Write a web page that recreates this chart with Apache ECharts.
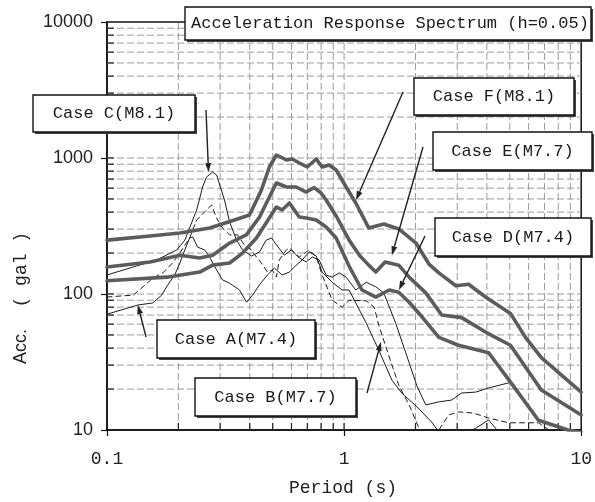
<!DOCTYPE html>
<html>
<head>
<meta charset="utf-8">
<script src="https://cdn.jsdelivr.net/npm/echarts@6/dist/echarts.min.js"></script>
<style>
  html, body { margin: 0; padding: 0; background: #fff; }
  #chart { width: 595px; height: 502px; }
</style>
</head>
<body>
<div id="chart"></div>
<script>
// ---- Acceleration response spectra, h = 0.05 (period in s, acceleration in gal) ----

// Case A (M7.4) - thin solid
const periodA = [0.1,0.135,0.156,0.17,0.18,0.193,0.203,0.213,0.223,0.23,0.241,0.258,0.271,0.29,0.307,0.329,0.362,0.388,0.411,0.44,0.475,0.508,0.548,0.588,0.628,0.666,0.713,0.763,0.808,0.891,0.981,1.05,1.24,1.40,1.59,1.75,2.03,2.34,2.51,3.04,3.59,4.07,4.48,4.94];
const accA    = [71,83,86,98,116,138,169,211,258,263,221,211,187,150,127,120,107,87,98,117,138,155,138,145,163,178,204,190,145,122,107,107,61,38.7,23.3,18.7,14.8,11.45,9.7,9,10.3,11.85,9.7,8.8];

// Case B (M7.7) - thin dashed
const periodB = [0.1,0.117,0.129,0.142,0.156,0.172,0.189,0.203,0.223,0.239,0.263,0.276,0.29,0.307,0.329,0.355,0.38,0.399,0.427,0.448,0.475,0.498,0.518,0.533,0.571,0.588,0.647,0.713,0.763,0.808,0.891,0.981,1.05,1.24,1.34,1.40,1.55,1.70,1.88,2.07,2.17,2.34,2.51,2.76,3.04,3.52,4.07,4.94,6.6,8.0];
const accB    = [95,97,98,113,131,143,169,200,258,350,415,451,362,306,272,272,229,218,187,169,145,150,133,178,211,218,187,211,187,138,90,80,90,89,80,59,34.4,21.4,15.3,10.3,9.2,8.6,10,12.9,13.6,13.3,12.25,11.3,11.3,9];

// Case C (M8.1) - thin solid
const periodC = [0.1,0.129,0.162,0.197,0.213,0.223,0.239,0.253,0.263,0.279,0.29,0.299,0.313,0.329,0.352,0.373,0.407,0.44,0.469,0.494,0.523,0.56,0.599,0.647,0.692,0.734,0.785,0.84,0.891,0.953,1.02,1.12,1.24,1.36,1.47,1.65,1.82,2.03,2.21,2.51,2.84,3.13,3.59,4.07,4.94];
const accC    = [138,158,178,211,249,306,415,612,725,789,750,633,491,338,249,211,190,204,249,258,225,193,211,184,172,187,178,138,133,143,133,107,122,113,102,61,37,21,15.3,16.1,16.6,18.7,19,20.4,22.2];

// Case D (M7.4) - thick
const periodD = [0.1,0.179,0.246,0.279,0.329,0.373,0.427,0.469,0.518,0.548,0.588,0.647,0.692,0.763,0.84,0.926,1.05,1.19,1.36,1.55,1.70,1.88,2.13,2.51,3.04,4.07,5.08,6.6,8.8,10];
const accD    = [125,133,145,163,169,200,258,333,436,415,467,368,362,350,311,258,160,107,95,107,103,87,68,48,42,37,22,11.8,10,9.6];

// Case E (M7.7) - thick
const periodE = [0.1,0.152,0.203,0.246,0.279,0.329,0.387,0.44,0.484,0.518,0.571,0.628,0.692,0.748,0.80,0.84,0.93,1.05,1.16,1.27,1.36,1.49,1.70,1.88,2.21,2.58,3.13,3.95,5.03,6.79,10];
const accE    = [158,172,193,184,193,237,272,368,517,655,612,612,562,605,553,491,370,249,193,163,145,172,163,133,102,70,67,52.5,42,19.7,12.9];

// Case F (M8.1) - thick
const periodF = [0.1,0.152,0.203,0.271,0.345,0.399,0.448,0.484,0.518,0.571,0.605,0.647,0.699,0.763,0.808,0.865,0.926,1.02,1.12,1.27,1.47,1.70,2.01,2.28,2.51,2.96,3.35,3.95,5.03,5.82,6.79,10];
const accF    = [249,267,281,306,350,381,582,859,1052,967,983,919,859,983,859,888,816,612,467,306,327,301,237,166,143,115,118,95,72,48,34,19];

// Grid / tick positions on the log axes
const periodGrid = [0.2,0.3,0.4,0.5,0.6,0.7,0.8,0.9,1,2,3,4,5,6,7,8,9];
const accGrid = [20,30,40,50,60,70,80,90,100,200,300,400,500,600,700,800,900,1000,2000,3000,4000,5000,6000,7000,8000,9000];

// Case labels and the point on each curve that their leader points at
const caseLabels = ['Case A(M7.4)','Case B(M7.7)','Case C(M8.1)','Case D(M7.4)','Case E(M7.7)','Case F(M8.1)'];
const leaderTips = [[0.135,83],[1.431,44.4],[0.268,789],[1.703,107],[1.591,193],[1.123,491]];

const X_MIN = 0.1, X_MAX = 10, Y_MIN = 10, Y_MAX = 10000;
const MONO = '"Liberation Mono", "DejaVu Sans Mono", monospace';
const SANS = '"Liberation Sans", Arial, sans-serif';

const zip = (xs, ys) => xs.map((x, i) => [x, ys[i]]);

const thick = { color: '#5c5c5c', width: 3.6 };
const thin = { color: '#1c1c1c', width: 1 };

function curve(name, xs, ys, style, dashed) {
  return {
    name, type: 'line', data: zip(xs, ys), showSymbol: false, symbol: 'none',
    clip: true, z: 3, silent: true,
    lineStyle: { color: style.color, width: style.width, type: dashed ? [5, 4] : 'solid', cap: 'round', join: 'round' }
  };
}

const chart = echarts.init(document.getElementById('chart'), null, { renderer: 'canvas' });

const gridSeriesV = {
  type: 'custom', coordinateSystem: 'cartesian2d', z: 1, silent: true, clip: false,
  data: periodGrid.map(v => [v, Y_MIN]),
  renderItem: (params, api) => {
    const v = api.value(0);
    const b = api.coord([v, Y_MIN]);
    const t = api.coord([v, Y_MAX]);
    return { type: 'group', children: [
      { type: 'line', shape: { x1: b[0], y1: b[1], x2: t[0], y2: t[1] },
        style: { stroke: '#9c9c9c', lineWidth: 1, lineDash: [7, 3] } },
      { type: 'line', shape: { x1: b[0], y1: b[1], x2: b[0], y2: b[1] - 7 },
        style: { stroke: '#222', lineWidth: 1.2 } }
    ]};
  }
};

const gridSeriesH = {
  type: 'custom', coordinateSystem: 'cartesian2d', z: 1, silent: true, clip: false,
  data: accGrid.map(v => [X_MIN, v]),
  renderItem: (params, api) => {
    const v = api.value(1);
    const l = api.coord([X_MIN, v]);
    const r = api.coord([X_MAX, v]);
    return { type: 'group', children: [
      { type: 'line', shape: { x1: l[0], y1: l[1], x2: r[0], y2: r[1] },
        style: { stroke: '#9c9c9c', lineWidth: 1, lineDash: [7, 3] } },
      { type: 'line', shape: { x1: l[0], y1: l[1], x2: l[0] + 7, y2: l[1] },
        style: { stroke: '#222', lineWidth: 1.2 } }
    ]};
  }
};

chart.setOption({
  animation: false,
  backgroundColor: '#fff',
  grid: { left: 107, right: 12, top: 22, bottom: 72, show: true, borderColor: '#111', borderWidth: 1.5, backgroundColor: '#fff' },
  xAxis: {
    type: 'log', logBase: 10, min: X_MIN, max: X_MAX,
    axisLine: { onZero: false, lineStyle: { color: '#111', width: 1.5 } },
    axisTick: { show: true, inside: false, length: 6, lineStyle: { color: '#111', width: 1.2 } },
    splitLine: { show: false },
    axisLabel: { color: '#222', fontFamily: MONO, fontSize: 18, margin: 20,
      formatter: v => (v < 1 ? v.toFixed(1) : String(Math.round(v))) }
  },
  yAxis: {
    type: 'log', logBase: 10, min: Y_MIN, max: Y_MAX,
    axisLine: { onZero: false, lineStyle: { color: '#111', width: 1.5 } },
    axisTick: { show: true, inside: false, length: 6, lineStyle: { color: '#111', width: 1.2 } },
    splitLine: { show: false },
    axisLabel: { color: '#222', fontFamily: SANS, fontSize: 18, margin: 14,
      formatter: v => String(Math.round(v)) }
  },
  series: [
    gridSeriesV, gridSeriesH,
    curve('Case A', periodA, accA, thin, false),
    curve('Case B', periodB, accB, thin, true),
    curve('Case C', periodC, accC, thin, false),
    curve('Case D', periodD, accD, thick, false),
    curve('Case E', periodE, accE, thick, false),
    curve('Case F', periodF, accF, thick, false)
  ]
});

// ---- annotations: title box, case boxes with leader arrows, axis names ----
function box(x, y, w, h, text, align) {
  return [
    { type: 'rect', z: 20, shape: { x: x + 2, y: y + 2, width: w, height: h }, style: { fill: '#444' } },
    { type: 'rect', z: 21, shape: { x, y, width: w, height: h }, style: { fill: '#fff', stroke: '#111', lineWidth: 1.4 } },
    { type: 'text', z: 22, x: align === 'left' ? x + 6 : x + w / 2, y: y + h / 2,
      style: { text, fill: '#1a1a1a', font: '17px ' + MONO, align: align || 'center', verticalAlign: 'middle' } }
  ];
}

function arrow(from, to) {
  const dx = to[0] - from[0], dy = to[1] - from[1];
  const len = Math.hypot(dx, dy);
  const ux = dx / len, uy = dy / len;
  const hl = 9, hw = 3;
  const bx = to[0] - ux * hl, by = to[1] - uy * hl;
  return [
    { type: 'line', z: 19, shape: { x1: from[0], y1: from[1], x2: bx, y2: by }, style: { stroke: '#222', lineWidth: 1.4 } },
    { type: 'polygon', z: 19, shape: { points: [to, [bx - uy * hw, by + ux * hw], [bx + uy * hw, by - ux * hw]] }, style: { fill: '#222' } }
  ];
}

const boxes = [
  // [x, y, w, h, leader start]
  [157, 320, 158, 38, [146, 337]],   // A
  [195, 378, 161, 38, [367, 393]],   // B
  [33, 95, 162, 37, [206, 110]],     // C
  [435, 218, 156, 38, [425, 236]],   // D
  [433, 132, 159, 38, [423, 147]],   // E
  [414, 78, 160, 37, [403, 92]]      // F
];

const graphics = [];
graphics.push(...box(185, 7, 406, 33, 'Acceleration Response Spectrum (h=0.05)', 'left'));
boxes.forEach((b, i) => {
  const tip = chart.convertToPixel({ gridIndex: 0 }, leaderTips[i]);
  graphics.push(...arrow(b[4], tip));
  graphics.push(...box(b[0], b[1], b[2], b[3], caseLabels[i]));
});

graphics.push({
  type: 'text', z: 22, x: 343, y: 488,
  style: { text: 'Period (s)', fill: '#222', font: '18px ' + MONO, align: 'center', verticalAlign: 'middle' }
});
graphics.push({
  type: 'text', z: 22, x: 21, y: 298, rotation: Math.PI / 2,
  style: {
    text: '{a|Acc.}{b|  ( gal )}', align: 'center', verticalAlign: 'middle', fill: '#222',
    rich: {
      a: { fontFamily: SANS, fontSize: 18, fill: '#222' },
      b: { fontFamily: MONO, fontSize: 18, fill: '#222' }
    }
  }
});

chart.setOption({ graphic: { elements: graphics } });
</script>
</body>
</html>
